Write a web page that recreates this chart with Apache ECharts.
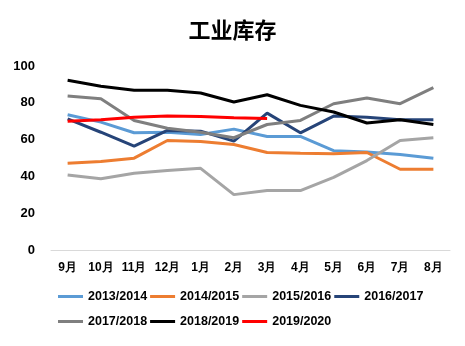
<!DOCTYPE html>
<html><head><meta charset="utf-8">
<script src="https://cdn.jsdelivr.net/npm/echarts@6/dist/echarts.min.js"></script>
<style>html,body{margin:0;padding:0;background:#fff}#c{width:465px;height:346px}</style>
</head><body><div id="c"></div>
<script>
const categories = ['9月','10月','11月','12月','1月','2月','3月','4月','5月','6月','7月','8月'];
const yTicks = [0,20,40,60,80,100];
const s1314 = [73.5,69.5,63.7,64,62.8,65.7,61.7,61.7,54,53.2,51.9,49.9];
const s1415 = [47.2,48.1,49.9,59.5,59,57.3,53,52.6,52.3,53,43.9,43.9];
const s1516 = [40.8,38.7,41.7,43.2,44.4,30.1,32.3,32.3,39.5,48.6,59.5,61];
const s1617 = [71.3,64,56.4,65,64.6,59.2,74.4,63.7,72.8,72.2,70.8,70.8];
const s1718 = [83.7,82.2,70.4,66.2,64,61,68.2,70.4,79.5,82.6,79.5,88.2];
const s1819 = [92.2,89,86.8,86.8,85.3,80.4,84.4,78.6,75,69,70.8,68.2];
const s1920 = [70,70.8,72.2,72.8,72.5,71.9,71.5];
const names = ['2013/2014','2014/2015','2015/2016','2016/2017','2017/2018','2018/2019','2019/2020'];
const colors = ['#5b9bd5','#ed7d31','#a5a5a5','#264478','#7f7f7f','#000000','#ff0000'];
const data = [s1314,s1415,s1516,s1617,s1718,s1819,s1920];
const font = 'Liberation Sans, Arial, sans-serif';
const legendCommon = {
  icon: 'rect', itemWidth: 25, itemHeight: 3, itemGap: 3,
  textStyle: {fontFamily: font, fontWeight: 'bold', fontSize: 12.5, color: '#000'}
};
const chart = echarts.init(document.getElementById('c'));
chart.setOption({
  animation: false,
  title: {text: '工业库存', left: 'center', top: 14,
    textStyle: {fontFamily: 'Noto Sans CJK SC', fontSize: 22, fontWeight: 'bold', color: '#000'}},
  grid: {left: 51, right: 15, top: 66, bottom: 96},
  legend: [
    Object.assign({}, legendCommon, {left: 53, top: 285, data: names.slice(0,4)}),
    Object.assign({}, legendCommon, {left: 53, top: 310, data: names.slice(4)})
  ],
  xAxis: {type: 'category', data: categories, boundaryGap: true,
    axisLine: {lineStyle: {color: '#d9d9d9', width: 1}}, axisTick: {show: false},
    axisLabel: {fontFamily: font, fontWeight: 'bold', fontSize: 12, color: '#000', margin: 12}},
  yAxis: {type: 'value', min: 0, max: 100, interval: 20,
    axisLine: {show: false}, axisTick: {show: false}, splitLine: {show: false},
    axisLabel: {fontFamily: font, fontWeight: 'bold', fontSize: 13, color: '#000', margin: 16,
      formatter: v => yTicks.includes(v) ? String(v) : ''}},
  series: names.map((n,i) => ({
    name: n, type: 'line', data: data[i], symbol: 'none', smooth: false,
    lineStyle: {color: colors[i], width: 3}, itemStyle: {color: colors[i]}, z: 2+i
  }))
});
</script></body></html>
